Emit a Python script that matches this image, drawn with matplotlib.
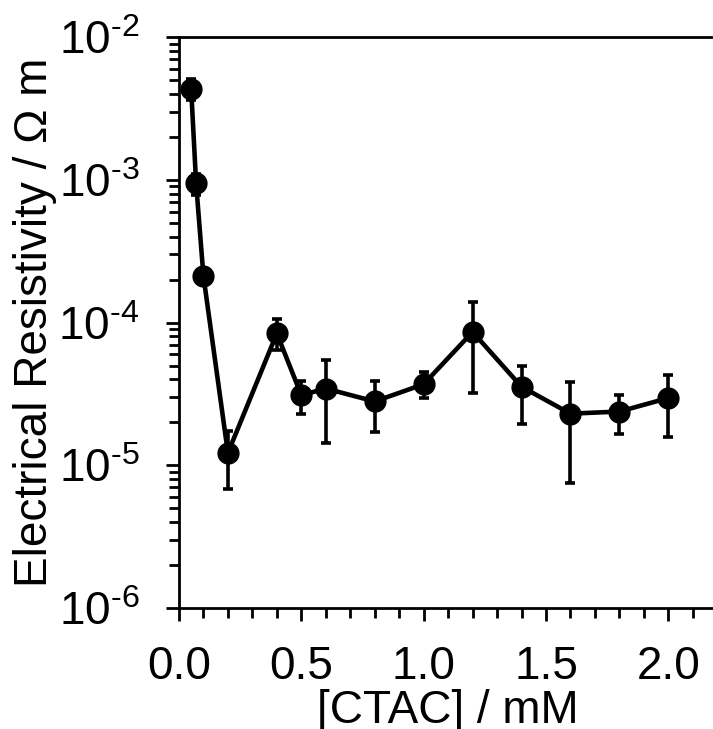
import numpy as np
import matplotlib
matplotlib.use("Agg")
import matplotlib.pyplot as plt
from matplotlib.ticker import LogLocator, MultipleLocator, FixedLocator, FixedFormatter, NullFormatter

plt.rcParams['font.family'] = ['Liberation Sans', 'DejaVu Sans']
plt.rcParams['mathtext.fontset'] = 'custom'
plt.rcParams['mathtext.rm'] = 'Liberation Sans'

# CTAC concentration (mM) and resistivity (ohm m), with error bar ends
ctac = [0.05, 0.07, 0.1, 0.2, 0.4, 0.5, 0.6, 0.8, 1.0, 1.2, 1.4, 1.6, 1.8, 2.0]
rho = [4.3e-3, 9.5e-4, 2.12e-4, 1.22e-5, 8.4e-5, 3.1e-5, 3.45e-5, 2.8e-5,
       3.7e-5, 8.6e-5, 3.55e-5, 2.3e-5, 2.38e-5, 2.96e-5]
rho_hi = [5.1e-3, 1.1e-3, 2.3e-4, 1.74e-5, 1.06e-4, 3.9e-5, 5.45e-5, 3.9e-5,
          4.5e-5, 1.39e-4, 5.0e-5, 3.83e-5, 3.1e-5, 4.28e-5]
rho_lo = [3.6e-3, 7.8e-4, 1.95e-4, 6.8e-6, 6.4e-5, 2.3e-5, 1.43e-5, 1.71e-5,
          2.96e-5, 3.2e-5, 1.95e-5, 7.5e-6, 1.66e-5, 1.58e-5]

y_ticks = [1e-6, 1e-5, 1e-4, 1e-3, 1e-2]
y_labels = [r'$\mathregular{10^{\text{-}6}}$', r'$\mathregular{10^{\text{-}5}}$',
            r'$\mathregular{10^{\text{-}4}}$', r'$\mathregular{10^{\text{-}3}}$',
            r'$\mathregular{10^{\text{-}2}}$']

rho = np.array(rho)
err = [rho - np.array(rho_lo), np.array(rho_hi) - rho]

fig = plt.figure(figsize=(7.13, 7.29), dpi=100)
ax = fig.add_axes([0.251, 0.166, 0.755, 0.783])

ax.errorbar(ctac, rho, yerr=err, color='black', marker='o', markersize=15,
            linewidth=3.3, elinewidth=2.6, capsize=3.8, capthick=2.6)

ax.set_yscale('log')
ax.set_ylim(1e-6, 1e-2)
ax.set_xlim(0, 2.2)

ax.yaxis.set_major_locator(FixedLocator(y_ticks))
ax.yaxis.set_major_formatter(FixedFormatter(y_labels))
ax.yaxis.set_minor_locator(LogLocator(base=10, subs=np.arange(2, 10)))
ax.yaxis.set_minor_formatter(NullFormatter())

ax.xaxis.set_major_locator(MultipleLocator(0.5))
ax.xaxis.set_minor_locator(MultipleLocator(0.1))
ax.xaxis.set_major_formatter(matplotlib.ticker.FormatStrFormatter('%.1f'))

ax.spines['right'].set_visible(False)
for s in ['left', 'top', 'bottom']:
    ax.spines[s].set_linewidth(2)

ax.tick_params(axis='both', which='major', direction='out', length=9.5, width=2,
               labelsize=33)
ax.tick_params(axis='y', which='major', pad=19)
ax.tick_params(axis='x', which='major', pad=17)
ax.tick_params(axis='both', which='minor', direction='out', length=7, width=2)

ax.set_xlabel('[CTAC] / mM', fontsize=33, labelpad=0)
ax.set_ylabel('Electrical Resistivity / Ω m', fontsize=33, labelpad=1)

fig.savefig('out.png', dpi=100)
